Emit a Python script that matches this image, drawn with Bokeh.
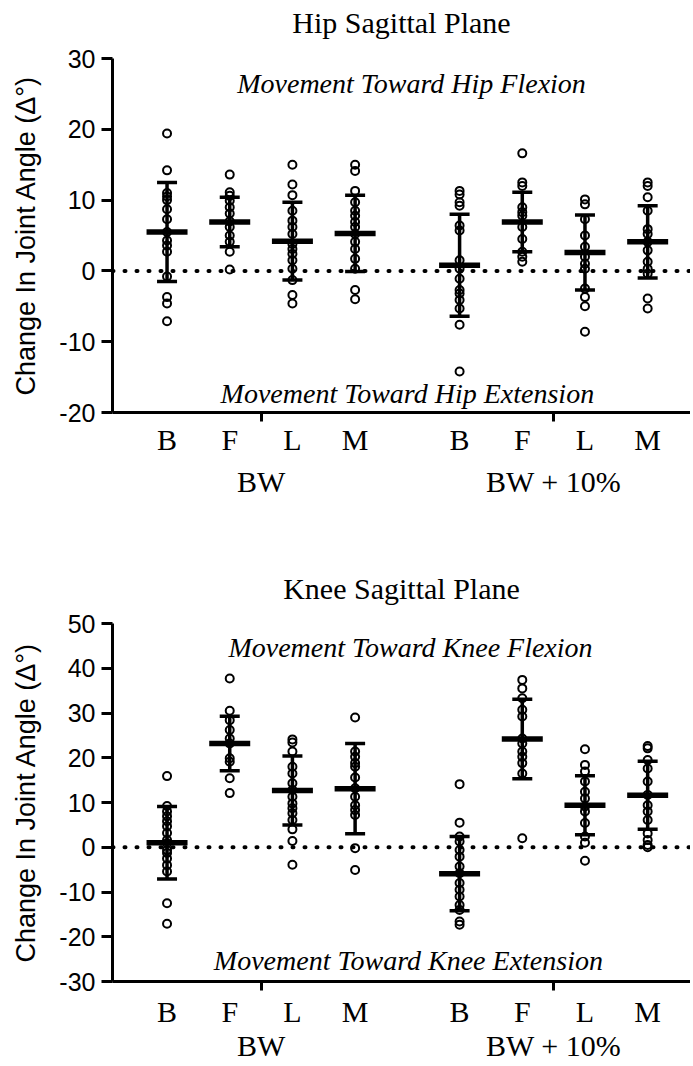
from bokeh.plotting import figure
from bokeh.models import (ColumnDataSource, Whisker, TeeHead, Span, Label, LinearAxis,
                          FixedTicker, Range1d)
from bokeh.layouts import column
from bokeh.embed import file_html
from bokeh.resources import INLINE

# ---------------- data ----------------
conditions = ["BW", "BW + 10%"]
directions = ["B", "F", "L", "M"]

# Hip sagittal plane, individual values (deg)
hip_bw_b = [19.4, 14.2, 11.0, 10.5, 10.0, 8.7, 7.3, 5.5, 4.3, 3.6, 2.7, -0.8, -3.7, -4.6, -7.1]
hip_bw_f = [13.6, 11.1, 10.6, 9.9, 9.0, 8.1, 7.0, 6.2, 5.0, 4.1, 2.7, 0.2]
hip_bw_l = [15.0, 12.2, 10.7, 8.5, 7.1, 6.2, 5.2, 3.8, 3.1, 2.4, 1.5, 0.3, -1.3, -3.4, -4.6]
hip_bw_m = [15.0, 14.1, 11.3, 9.7, 8.5, 7.8, 6.9, 6.2, 5.2, 4.1, 3.1, 1.7, 0.3, -2.7, -4.0]
hip_bw10_b = [11.3, 10.8, 9.7, 9.2, 6.4, 5.7, 1.5, 0.3, -1.1, -2.7, -3.2, -4.1, -5.3, -7.6, -14.2]
hip_bw10_f = [16.6, 12.5, 12.0, 9.0, 8.3, 7.8, 6.2, 4.5, 2.7, 2.0, 1.3]
hip_bw10_l = [10.1, 9.4, 7.3, 5.0, 3.4, 2.0, 1.0, 0.3, -2.5, -3.7, -5.0, -8.6]
hip_bw10_m = [12.5, 12.0, 10.4, 8.5, 5.9, 5.2, 4.1, 2.9, 1.3, 0.3, -0.4, -3.9, -5.3]
hip_mean = [5.5, 6.9, 4.2, 5.3, 0.8, 6.9, 2.6, 4.1]
hip_sd = [7.0, 3.5, 5.5, 5.4, 7.2, 4.2, 5.3, 5.1]

# Knee sagittal plane, individual values (deg)
knee_bw_b = [15.9, 9.2, 8.0, 6.9, 5.8, 4.7, 3.2, 1.6, 0.9, -0.6, -1.3, -2.5, -4.0, -5.4, -12.5, -17.1]
knee_bw_f = [37.7, 30.5, 28.4, 26.2, 24.3, 23.2, 19.9, 19.1, 15.4, 12.1]
knee_bw_l = [24.1, 23.4, 21.4, 18.0, 16.5, 14.3, 12.8, 11.3, 9.8, 8.7, 7.6, 6.1, 4.0, 1.4, -3.9]
knee_bw_m = [29.0, 21.4, 20.2, 18.8, 18.0, 15.6, 13.2, 11.3, 9.4, 8.3, 7.2, -0.2, -5.1]
knee_bw10_b = [14.1, 5.5, 2.4, 1.3, -0.6, -2.1, -4.3, -5.8, -8.0, -9.5, -11.0, -12.9, -14.0, -16.6, -17.3]
knee_bw10_f = [37.4, 35.5, 33.3, 30.7, 29.2, 24.3, 23.2, 21.4, 20.2, 18.8, 16.5, 2.0]
knee_bw10_l = [21.9, 18.4, 16.9, 14.7, 12.4, 10.9, 9.1, 8.0, 5.4, 2.4, 1.0, -3.0]
knee_bw10_m = [22.6, 22.1, 19.5, 17.6, 14.7, 11.7, 9.4, 8.0, 6.1, 3.1, 1.6, 0.5, 0.0]
knee_mean = [1.0, 23.2, 12.7, 13.1, -5.9, 24.2, 9.4, 11.6]
knee_sd = [8.1, 6.1, 7.7, 10.1, 8.3, 8.9, 6.6, 7.6]

hip_ticks = [-20, -10, 0, 10, 20, 30]
knee_ticks = [-30, -20, -10, 0, 10, 20, 30, 40, 50]

# ---------------- layout constants ----------------
STEP = 3          # distance between columns within a group
GROUP_STEP = 14   # distance between group starts
SERIF = "Liberation Serif"
SANS = "Liberation Sans"


def pos(g, i):
    return g * GROUP_STEP + i * STEP


def make_panel(title, series, means, sds, ticks, flex_text, ext_text, height,
               border_top, border_bottom, title_standoff, flex_xy, ext_xy, s_cat, s_grp):
    p = figure(width=690, height=height, output_backend="svg", toolbar_location=None,
               x_range=Range1d(-2.61, 25.05), y_range=Range1d(ticks[0], ticks[-1]),
               min_border_left=112, min_border_right=0,
               min_border_top=border_top, min_border_bottom=border_bottom)
    p.outline_line_color = None
    p.xgrid.visible = False
    p.ygrid.visible = False
    p.background_fill_color = "white"
    p.border_fill_color = "white"

    xa = p.below[0]   # default x axis (line + group ticks)
    ya = p.left[0]    # default y axis

    # title drawn as the label of an invisible axis above the frame
    title_axis = LinearAxis(ticker=FixedTicker(ticks=[]), axis_line_color=None,
                            major_tick_line_color=None, minor_tick_line_color=None,
                            major_tick_out=0, major_tick_in=0, major_label_standoff=0,
                            axis_label=title, axis_label_standoff=title_standoff,
                            axis_label_text_font=SERIF, axis_label_text_font_style="normal",
                            axis_label_text_font_size="30px", axis_label_text_color="black")
    p.add_layout(title_axis, "above")

    xs, ys = [], []
    for k, vals in enumerate(series):
        g, i = divmod(k, 4)
        xs += [pos(g, i)] * len(vals)
        ys += vals
    p.scatter(xs, ys, marker="circle", size=8, fill_color=None,
              line_color="black", line_width=2)

    cx = [pos(g, i) for g in range(2) for i in range(4)]
    src = ColumnDataSource(dict(x=cx, mean=means,
                                upper=[m + s for m, s in zip(means, sds)],
                                lower=[m - s for m, s in zip(means, sds)]))
    p.add_layout(Whisker(base="x", upper="upper", lower="lower", source=src,
                         line_width=3.5, line_color="black",
                         upper_head=TeeHead(size=20, line_width=3.5, line_color="black"),
                         lower_head=TeeHead(size=20, line_width=3.5, line_color="black")))
    p.scatter("x", "mean", source=src, marker="dash", size=41, line_width=5.5,
              line_color="black")

    p.add_layout(Span(location=0, dimension="width", line_color="black",
                      line_width=4, line_dash="1 11", line_cap="round"))

    # y axis
    ya.ticker = FixedTicker(ticks=ticks)
    ya.major_label_overrides = {t: str(t) for t in ticks}
    ya.axis_line_width = 3
    ya.axis_line_color = "black"
    ya.major_tick_line_width = 3
    ya.major_tick_line_color = "black"
    ya.major_tick_out = 11
    ya.major_tick_in = 0
    ya.minor_tick_line_color = None
    ya.major_label_text_font = SANS
    ya.major_label_text_font_size = "25px"
    ya.major_label_text_color = "black"
    ya.major_label_standoff = 6
    ya.axis_label = "Change In Joint Angle (\u0394\u00b0)"
    ya.axis_label_text_font = SANS
    ya.axis_label_text_font_size = "27px"
    ya.axis_label_text_font_style = "normal"
    ya.axis_label_text_color = "black"
    ya.axis_label_standoff = 15

    centers = [pos(g, 0) + 1.5 * STEP for g in range(2)]
    # x axis line with group ticks
    xa.ticker = FixedTicker(ticks=centers)
    xa.major_label_overrides = {c: "" for c in centers}
    xa.axis_line_width = 3
    xa.axis_line_color = "black"
    xa.major_tick_line_width = 3
    xa.major_tick_line_color = "black"
    xa.major_tick_out = 9
    xa.major_tick_in = 0
    xa.minor_tick_line_color = None
    xa.major_label_text_font_size = "0px"
    xa.major_label_standoff = 0

    # category labels
    cat_axis = LinearAxis(ticker=FixedTicker(ticks=cx),
                          major_label_overrides={x: directions[k % 4] for k, x in enumerate(cx)},
                          axis_line_color=None, major_tick_line_color=None,
                          minor_tick_line_color=None, major_label_standoff=s_cat,
                          major_label_text_font=SERIF, major_label_text_font_size="30px",
                          major_label_text_color="black")
    p.add_layout(cat_axis, "below")
    # group labels
    grp_axis = LinearAxis(ticker=FixedTicker(ticks=centers),
                          major_label_overrides={c: conditions[k] for k, c in enumerate(centers)},
                          axis_line_color=None, major_tick_line_color=None,
                          minor_tick_line_color=None, major_label_standoff=s_grp,
                          major_label_text_font=SERIF, major_label_text_font_size="30px",
                          major_label_text_color="black")
    p.add_layout(grp_axis, "below")

    p.add_layout(Label(x=flex_xy[0], y=flex_xy[1], text=flex_text, text_align="center",
                       text_baseline="middle", text_font=SERIF, text_font_style="italic",
                       text_font_size="28px", text_color="black"))
    p.add_layout(Label(x=ext_xy[0], y=ext_xy[1], text=ext_text, text_align="center",
                       text_baseline="middle", text_font=SERIF, text_font_style="italic",
                       text_font_size="28px", text_color="black"))
    return p


hip = make_panel("Hip Sagittal Plane",
                 [hip_bw_b, hip_bw_f, hip_bw_l, hip_bw_m,
                  hip_bw10_b, hip_bw10_f, hip_bw10_l, hip_bw10_m],
                 hip_mean, hip_sd, hip_ticks,
                 "Movement Toward Hip Flexion", "Movement Toward Hip Extension",
                 height=543, border_top=58, border_bottom=131, title_standoff=20,
                 flex_xy=(11.7, 26.5), ext_xy=(11.5, -17.3), s_cat=-5, s_grp=0)

knee = make_panel("Knee Sagittal Plane",
                  [knee_bw_b, knee_bw_f, knee_bw_l, knee_bw_m,
                   knee_bw10_b, knee_bw10_f, knee_bw10_l, knee_bw10_m],
                  knee_mean, knee_sd, knee_ticks,
                  "Movement Toward Knee Flexion", "Movement Toward Knee Extension",
                  height=523, border_top=80, border_bottom=85, title_standoff=19,
                  flex_xy=(11.65, 44.6), ext_xy=(11.55, -25.3), s_cat=-2, s_grp=-8)

layout = column(hip, knee, spacing=0)
open("out.html", "w").write(file_html(layout, INLINE))
